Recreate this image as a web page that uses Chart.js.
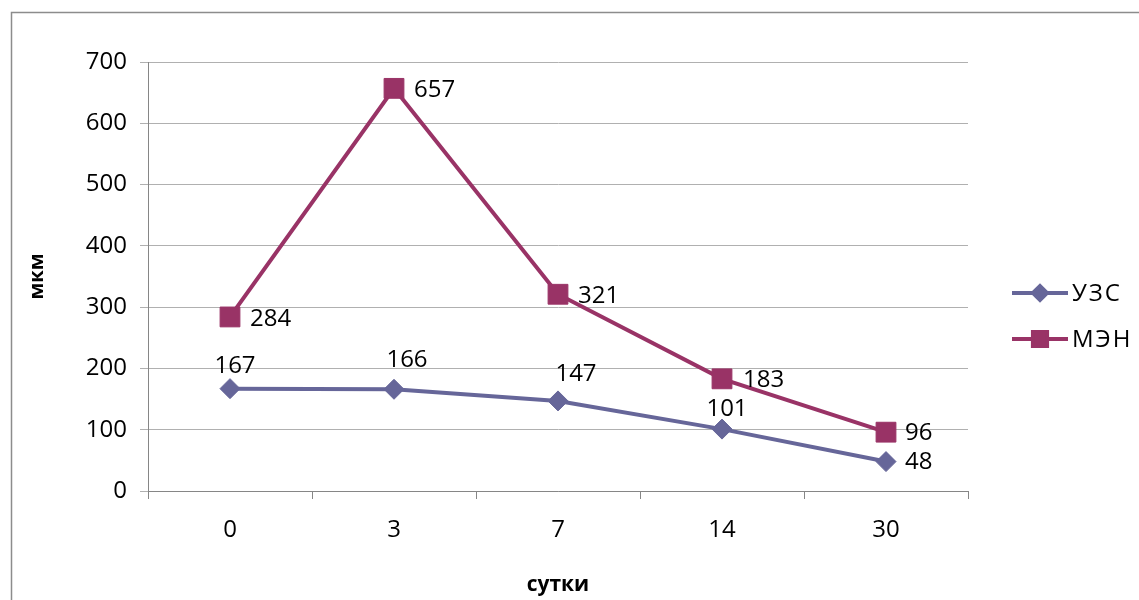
<!DOCTYPE html>
<html>
<head>
<meta charset="utf-8">
<script src="https://cdn.jsdelivr.net/npm/chart.js@4"></script>
<style>
  html, body { margin: 0; padding: 0; background: #fff; }
  #wrap { width: 1139px; height: 600px; position: relative; }
</style>
</head>
<body>
<div id="wrap"><canvas id="c" width="1139" height="600"></canvas></div>
<script>
// Days of observation and measured thickness (мкм)
const days = ['0', '3', '7', '14', '30'];
const uzsValues = [167, 166, 147, 101, 48];
const menValues = [284, 657, 321, 183, 96];
const seriesNames = ['УЗС', 'МЭН'];
const yTickMax = 700;
const yTickStep = 100;

const FONT = '"Open Sans", "Noto Sans", sans-serif';

// Where each value label sits relative to its point
const labelPlacement = [
  [['top', 5, -22], ['top', 13, -29], ['top', 18, -27], ['top', 5, -20], ['right', 19, 1]],
  [['right', 20, 2], ['right', 20, 2], ['right', 20, 2], ['right', 21, 1], ['right', 19, 1]]
];

const framePlugin = {
  id: 'frame',
  beforeDraw(chart) {
    const ctx = chart.ctx;
    ctx.save();
    ctx.fillStyle = '#fff';
    ctx.fillRect(0, 0, chart.width, chart.height);
    ctx.strokeStyle = '#8c8c8c';
    ctx.lineWidth = 1.5;
    ctx.strokeRect(11.5, 12.5, chart.width + 20, chart.height + 20);
    ctx.restore();
  }
};

const valueLabels = {
  id: 'valueLabels',
  afterDatasetsDraw(chart) {
    const ctx = chart.ctx;
    ctx.save();
    ctx.font = '24px ' + FONT;
    ctx.fillStyle = '#000';
    ctx.textBaseline = 'middle';
    chart.data.datasets.forEach((ds, di) => {
      const meta = chart.getDatasetMeta(di);
      meta.data.forEach((pt, i) => {
        const [where, dx, dy] = labelPlacement[di][i];
        ctx.textAlign = where === 'right' ? 'left' : 'center';
        ctx.fillText(String(ds.data[i]), pt.x + dx, pt.y + dy);
      });
    });
    ctx.restore();
  }
};

const sideLegend = {
  id: 'sideLegend',
  afterDraw(chart) {
    const ctx = chart.ctx;
    const rows = [293, 339];
    const markerRadius = [7, 10];
    ctx.save();
    chart.data.datasets.forEach((ds, di) => {
      const y = rows[di];
      ctx.strokeStyle = ds.borderColor;
      ctx.lineWidth = 4;
      ctx.beginPath();
      ctx.moveTo(1012, y);
      ctx.lineTo(1068, y);
      ctx.stroke();
      ctx.fillStyle = ds.backgroundColor;
      ctx.strokeStyle = ds.borderColor;
      Chart.helpers.drawPoint(ctx, {
        pointStyle: ds.pointStyle,
        radius: markerRadius[di],
        rotation: 0,
        borderWidth: 1
      }, 1040, y);
      ctx.fillStyle = '#000';
      ctx.font = '24px ' + FONT;
      ctx.textAlign = 'left';
      ctx.textBaseline = 'middle';
      if ('letterSpacing' in ctx) ctx.letterSpacing = '2px';
      ctx.fillText(ds.label, 1072, y + 1);
      if ('letterSpacing' in ctx) ctx.letterSpacing = '0px';
    });
    ctx.restore();
  }
};

new Chart(document.getElementById('c'), {
  type: 'line',
  data: {
    labels: days,
    datasets: [
      {
        label: seriesNames[0],
        data: uzsValues,
        borderColor: '#666699',
        backgroundColor: '#666699',
        borderWidth: 4,
        pointStyle: 'rectRot',
        pointRadius: 10,
        pointHoverRadius: 10,
        pointBorderWidth: 1,
        tension: 0
      },
      {
        label: seriesNames[1],
        data: menValues,
        borderColor: '#993366',
        backgroundColor: '#993366',
        borderWidth: 4,
        pointStyle: 'rect',
        pointRadius: 14,
        pointHoverRadius: 14,
        pointBorderWidth: 1,
        tension: 0
      }
    ]
  },
  options: {
    responsive: false,
    animation: false,
    events: [],
    layout: { padding: { left: 0, top: 62, right: 171, bottom: 0 } },
    plugins: {
      legend: { display: false },
      tooltip: { enabled: false }
    },
    scales: {
      x: {
        offset: true,
        grid: {
          offset: true,
          drawOnChartArea: false,
          drawTicks: true,
          tickLength: 8,
          color: '#868686'
        },
        border: { color: '#868686', width: 1 },
        ticks: {
          color: '#000',
          font: { family: FONT, size: 24 },
          padding: 17,
          maxRotation: 0
        },
        title: {
          display: true,
          text: 'сутки',
          color: '#000',
          font: { family: FONT, size: 21, weight: 'bold' },
          padding: { top: 0, bottom: 2 }
        },
        afterFit(scale) { scale.height = 109; }
      },
      y: {
        min: 0,
        max: yTickMax,
        grid: {
          color: '#b0b0b0',
          tickLength: 8,
          drawTicks: true
        },
        border: { color: '#868686', width: 1 },
        ticks: {
          stepSize: yTickStep,
          color: '#000',
          font: { family: FONT, size: 24 },
          padding: 13
        },
        title: {
          display: true,
          text: 'мкм',
          color: '#000',
          font: { family: FONT, size: 20, weight: 'bold' },
          padding: { top: 25, bottom: 0 }
        },
        afterFit(scale) { scale.width = 148; }
      }
    }
  },
  plugins: [framePlugin, valueLabels, sideLegend]
});
</script>
</body>
</html>
